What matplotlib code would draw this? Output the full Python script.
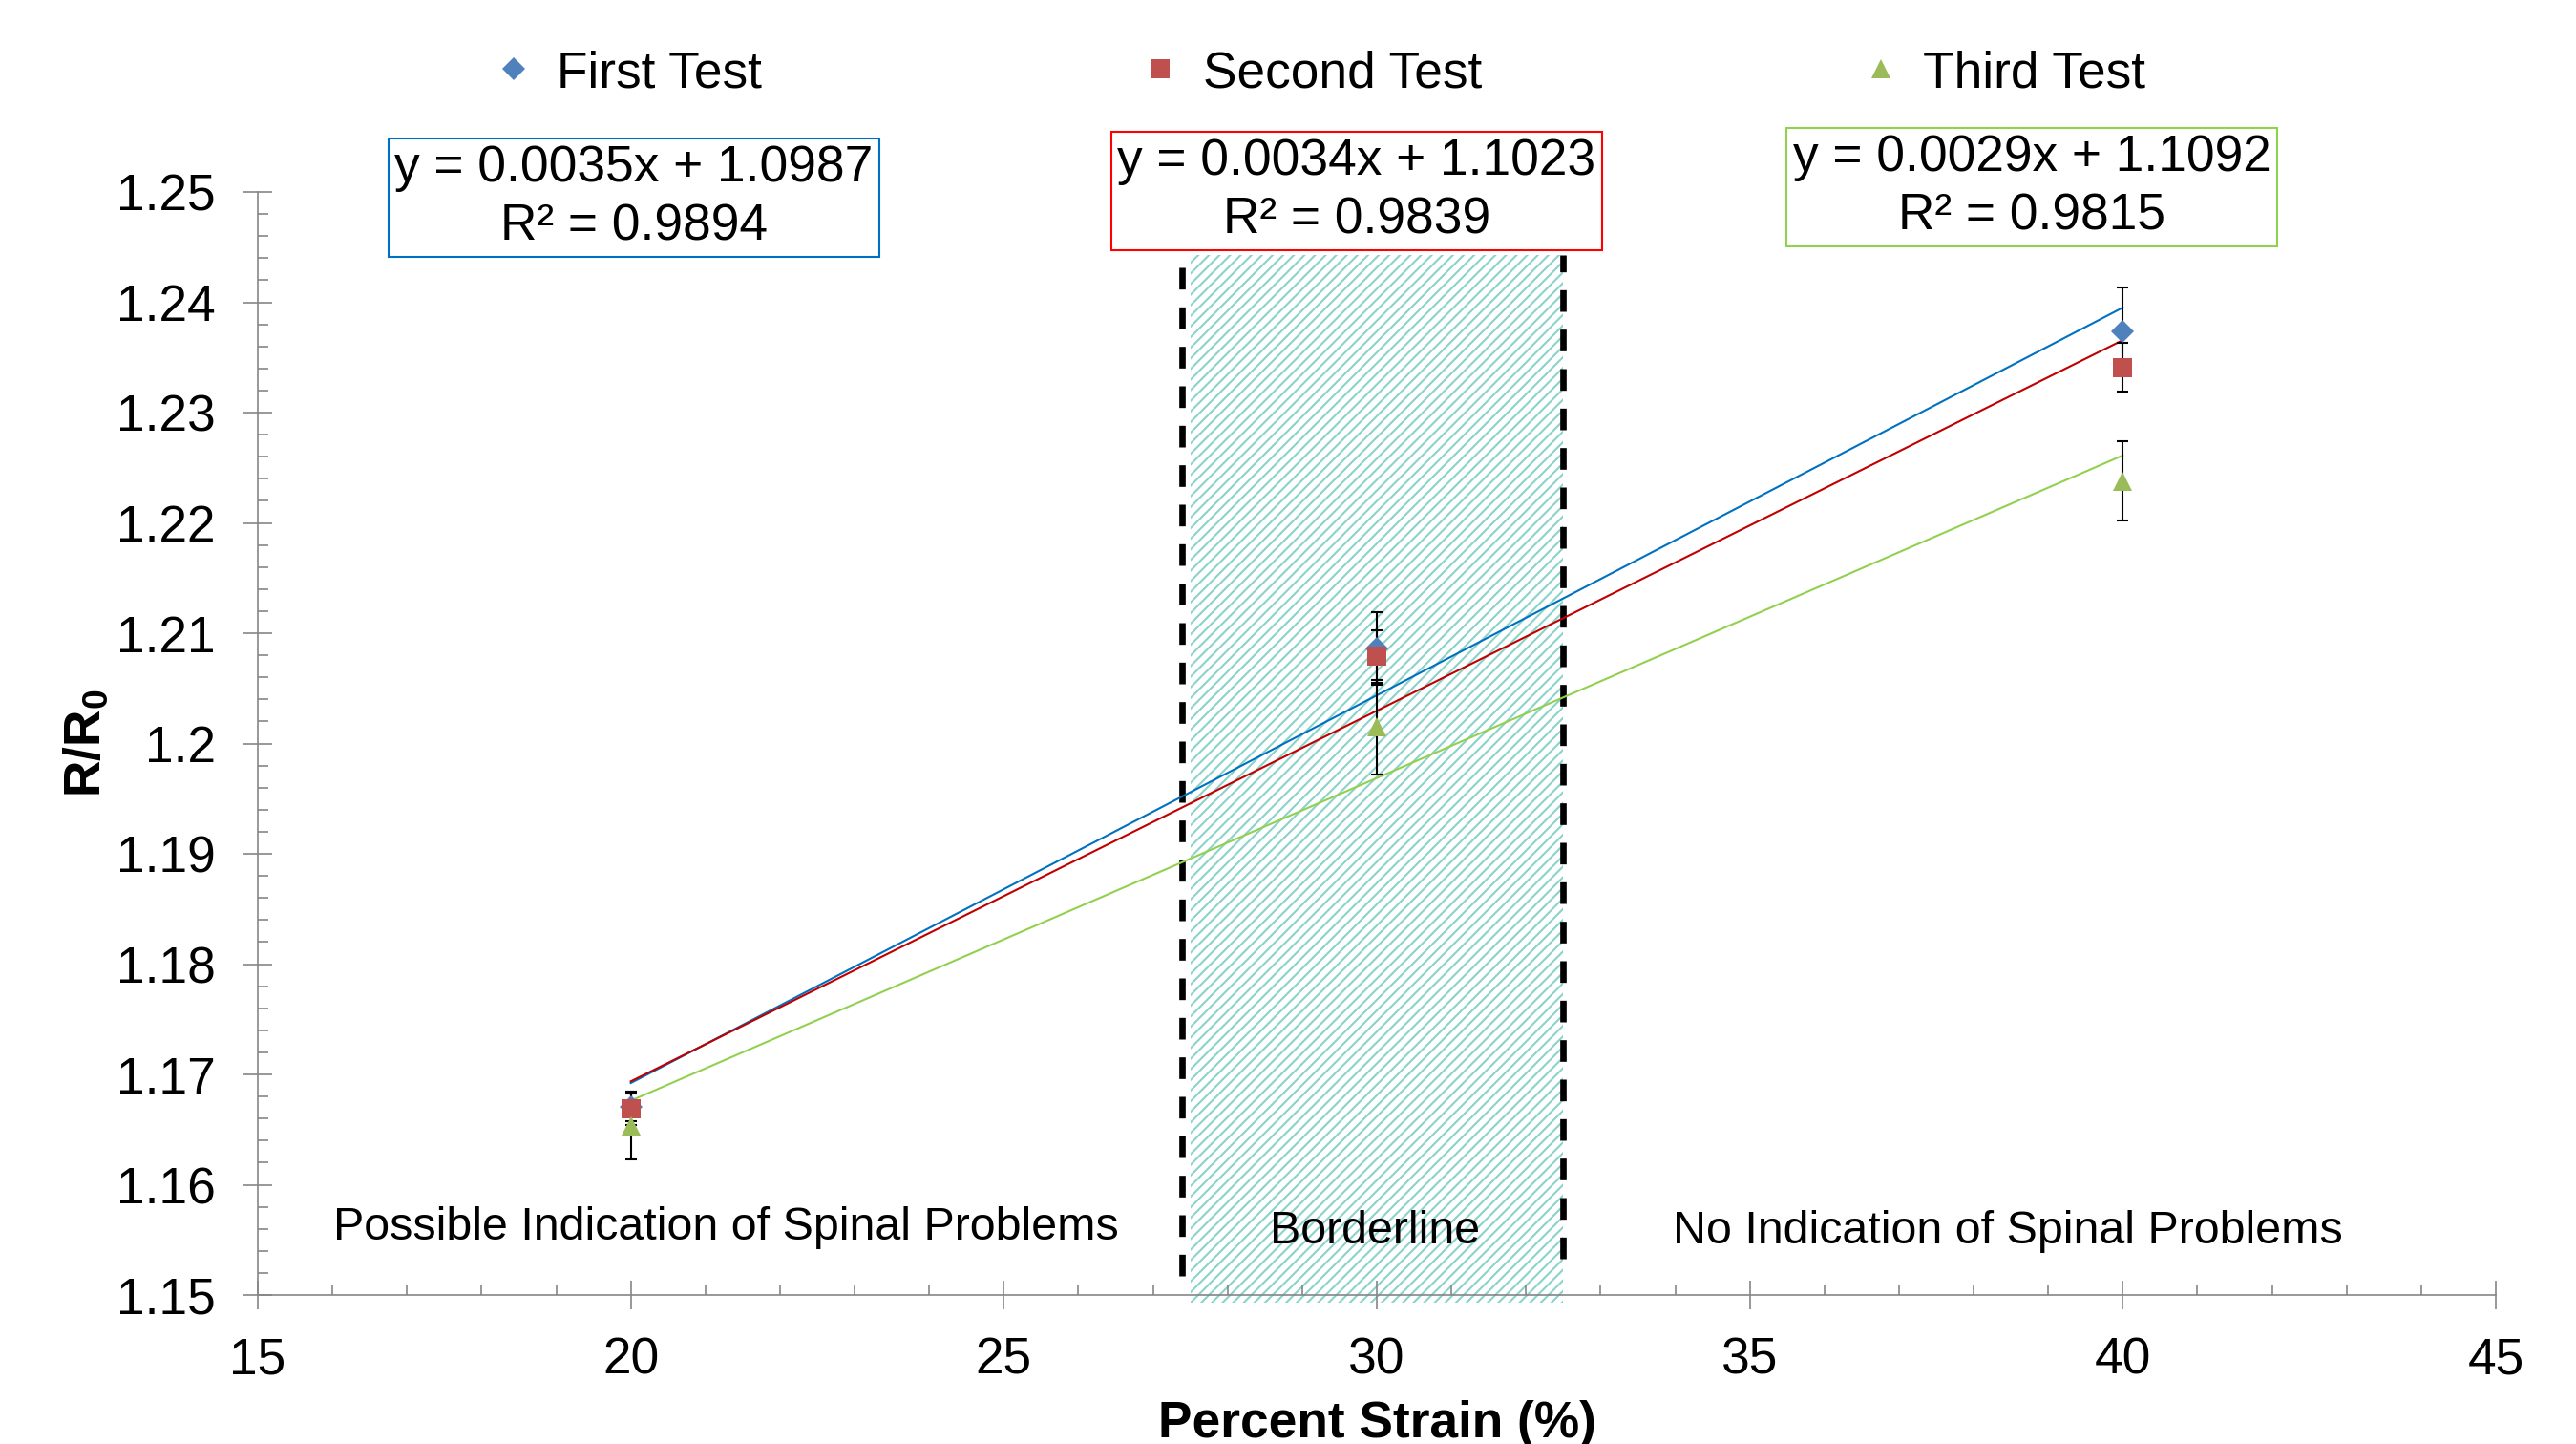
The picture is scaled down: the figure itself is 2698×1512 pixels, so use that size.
import matplotlib
matplotlib.use("Agg")
import matplotlib.pyplot as plt
import numpy as np
from matplotlib.ticker import MultipleLocator, FuncFormatter

plt.rcParams["font.family"] = ["Liberation Sans", "DejaVu Sans"]
plt.rcParams["mathtext.fontset"] = "custom"
plt.rcParams["mathtext.rm"] = "Liberation Sans"
plt.rcParams["mathtext.bf"] = "Liberation Sans:bold"
plt.rcParams["hatch.linewidth"] = 1.5

# data
strain = [20, 30, 40]
first_test = [1.1671, 1.2086, 1.2374]
first_err = [0.0013, 0.0033, 0.0039]
second_test = [1.1669, 1.2079, 1.2341]
second_err = [0.0015, 0.0024, 0.0022]
third_test = [1.1653, 1.2015, 1.2238]
third_err = [0.0030, 0.0043, 0.0036]

series_names = ["First Test", "Second Test", "Third Test"]
fit_labels = [
    "y = 0.0035x + 1.0987\nR² = 0.9894",
    "y = 0.0034x + 1.1023\nR² = 0.9839",
    "y = 0.0029x + 1.1092\nR² = 0.9815",
]
region_labels = ["Possible Indication of Spinal Problems", "Borderline",
                 "No Indication of Spinal Problems"]
region_x = [21.28, 29.98, 38.46]
region_y = [1.1550, 1.1547, 1.1547]
border_band = (27.5, 32.5)
border_lines = [27.39, 32.5]

marker_colors = ["#4F81BD", "#C0504D", "#9BBB59"]
line_colors = ["#0070C0", "#C00000", "#92D050"]
box_colors = ["#0070C0", "#FF0000", "#92D050"]
markers = ["D", "s", "^"]
msizes = [12.5, 14.5, 15]
box_pos = [(0.2461, 0.8631), (0.5267, 0.8677), (0.7887, 0.8704)]

FS = 38.3
FS_REGION = 34.8
axis_gray = "#868686"

fig = plt.figure(figsize=(26.98, 15.12), dpi=100)
ax = fig.add_axes([0.10007, 0.10317, 0.86879, 0.76389])

# borderline band
ax.fill_between(border_band, 1.1493, 1.2443, facecolor="white",
                edgecolor="#8AD3CB", linewidth=0, hatch="///",
                clip_on=False, zorder=0.5)
ax.plot([border_lines[0]] * 2, [1.1517, 1.2443], color="black", lw=4.8,
        dashes=(3.4, 2.8), clip_on=False, zorder=1)
ax.plot([border_lines[1]] * 2, [1.1533, 1.2443], color="black", lw=4.8,
        dashes=(3.4, 2.8), clip_on=False, zorder=1)

values = [first_test, second_test, third_test]
errors = [first_err, second_err, third_err]
x = np.array(strain, dtype=float)
for i, (vals, errs) in enumerate(zip(values, errors)):
    slope, icpt = np.polyfit(x, vals, 1)
    ax.plot(x, slope * x + icpt, color=line_colors[i], lw=1.5, zorder=2)
    ax.errorbar(x, vals, yerr=errs, fmt="none", ecolor="black",
                elinewidth=1.5, capsize=4.5, capthick=1.5, zorder=3)
    ax.plot(x, vals, ls="none", marker=markers[i], ms=msizes[i],
            color=marker_colors[i], markeredgewidth=0, zorder=4,
            label=series_names[i])

for i, txt in enumerate(fit_labels):
    fig.text(box_pos[i][0], box_pos[i][1], txt, ha="center", va="center",
             fontsize=FS, multialignment="center", linespacing=1.3, zorder=6,
             bbox=dict(boxstyle="square,pad=0.12", facecolor="white",
                       edgecolor=box_colors[i], linewidth=1.5))

for lab, rx, ry in zip(region_labels, region_x, region_y):
    ax.text(rx, ry, lab, ha="center", va="baseline", fontsize=FS_REGION,
            zorder=5)

ax.set_xlim(15, 45)
ax.set_ylim(1.15, 1.25)
ax.xaxis.set_major_locator(MultipleLocator(5))
ax.xaxis.set_minor_locator(MultipleLocator(1))
ax.yaxis.set_major_locator(MultipleLocator(0.01))
ax.yaxis.set_minor_locator(MultipleLocator(0.002))
ax.yaxis.set_major_formatter(FuncFormatter(lambda v, p: f"{v:.2f}".rstrip("0")))

for s in ["top", "right"]:
    ax.spines[s].set_visible(False)
for s in ["left", "bottom"]:
    ax.spines[s].set_color(axis_gray)
    ax.spines[s].set_linewidth(1.2)

ax.tick_params(which="major", direction="inout", length=22, width=1.2,
               color=axis_gray, labelsize=FS)
ax.tick_params(which="minor", direction="in", length=8, width=1.2,
               color=axis_gray)
ax.tick_params(axis="x", which="major", pad=20)
ax.tick_params(axis="y", which="major", pad=21)

ax.set_xlabel("Percent Strain (%)", fontsize=FS, fontweight="bold", labelpad=12)
ax.set_ylabel(r"$\mathbf{R/R_0}$", fontsize=FS)
ax.yaxis.set_label_coords(-0.066, 0.5)

fig.legend(loc="center", bbox_to_anchor=(0.5122, 0.949), ncol=3,
           frameon=False, fontsize=FS, handlelength=0.8, handletextpad=0.44,
           columnspacing=7.45, borderpad=0, numpoints=1)

fig.savefig("out.png", dpi=100)
